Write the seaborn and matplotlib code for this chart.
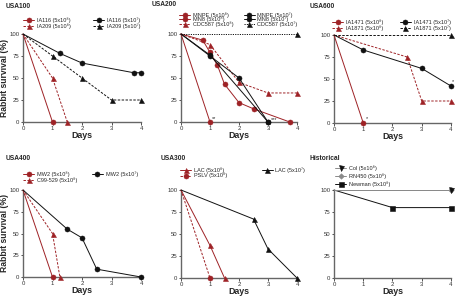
import numpy as np
import pandas as pd
import matplotlib.pyplot as plt
import seaborn as sns

sns.set_theme(style="ticks")
plt.rcParams['font.family'] = ['Liberation Sans', 'DejaVu Sans']

RED = '#9e2226'
BLK = '#111111'
GRY = '#8a8a8a'

# USA100
ia116_hi_x, ia116_hi_y = [0, 1], [100, 0]
ia209_hi_x, ia209_hi_y = [0, 1, 1.5], [100, 50, 0]
ia116_lo_x, ia116_lo_y = [0, 1.25, 2, 3.75, 4], [100, 78, 67, 56, 56]
ia209_lo_x, ia209_lo_y = [0, 1, 2, 3, 4], [100, 75, 50, 25, 25]

# USA200
mnpe_hi_x, mnpe_hi_y = [0, 1], [100, 0]
mn8_hi_x, mn8_hi_y = [0, 0.75, 1, 1.25, 1.5, 2, 2.5, 3.75], [100, 93, 79, 65, 43, 22, 15, 0]
cdc_hi_x, cdc_hi_y = [0, 1, 2, 3, 4], [100, 88, 45, 33, 33]
mnpe_lo_x, mnpe_lo_y = [0, 1, 2, 3], [100, 75, 50, 0]
mn8_lo_x, mn8_lo_y = [0, 1, 3], [100, 76, 0]
cdc_lo_x, cdc_lo_y = [0, 4], [100, 100]

# USA600
ia1471_hi_x, ia1471_hi_y = [0, 1], [100, 0]
ia1871_hi_x, ia1871_hi_y = [0, 2.5, 3, 4], [100, 75, 25, 25]
ia1471_lo_x, ia1471_lo_y = [0, 1, 3, 4], [100, 83, 62, 42]
ia1871_lo_x, ia1871_lo_y = [0, 4], [100, 100]

# USA400
mw2_hi_x, mw2_hi_y = [0, 1], [100, 0]
c99_hi_x, c99_hi_y = [0, 1, 1.25], [100, 50, 0]
mw2_lo_x, mw2_lo_y = [0, 1.5, 2, 2.5, 4], [100, 55, 45, 9, 0]

# USA300
lac_hi_x, lac_hi_y = [0, 1, 1.5], [100, 37, 0]
pslv_hi_x, pslv_hi_y = [0, 1], [100, 0]
lac_lo_x, lac_lo_y = [0, 2.5, 3, 4], [100, 67, 33, 0]

# Historical
col_x, col_y = [0, 4], [100, 100]
rn450_x, rn450_y = [0, 4], [100, 100]
newman_x, newman_y = [0, 2, 4], [100, 80, 80]

hi = '(5x10\u2078)'
lo = '(5x10\u2077)'

# title, axes box px (l, t, r, b), title pos px, legend top-left px, ncol, colspacing, labelspacing, series
panels = [
    ('USA100', (23, 34, 141, 122), (6, 6), (23, 17.5), 2, 4.0, 0.05, [
        (f'IA116 {hi}', ia116_hi_x, ia116_hi_y, RED, 'o', '-'),
        (f'IA209 {hi}', ia209_hi_x, ia209_hi_y, RED, '^', '--'),
        (f'IA116 {lo}', ia116_lo_x, ia116_lo_y, BLK, 'o', '-'),
        (f'IA209 {lo}', ia209_lo_x, ia209_lo_y, BLK, '^', '--')]),
    ('USA200', (181, 34, 297, 122), (152, 5), (179, 12), 2, 1.8, -0.15, [
        (f'MNPE {hi}', mnpe_hi_x, mnpe_hi_y, RED, 'o', '-'),
        (f'MN8 {hi}', mn8_hi_x, mn8_hi_y, RED, 'o', '-'),
        (f'CDC587 {hi}', cdc_hi_x, cdc_hi_y, RED, '^', '--'),
        (f'MNPE {lo}', mnpe_lo_x, mnpe_lo_y, BLK, 'o', '-'),
        (f'MN8 {lo}', mn8_lo_x, mn8_lo_y, BLK, 'o', '-'),
        (f'CDC587 {lo}', cdc_lo_x, cdc_lo_y, BLK, '^', ':')]),
    ('USA600', (334, 35, 451, 123), (310, 7), (332, 19), 2, 3.0, 0.05, [
        (f'IA1471 {hi}', ia1471_hi_x, ia1471_hi_y, RED, 'o', '-'),
        (f'IA1871 {hi}', ia1871_hi_x, ia1871_hi_y, RED, '^', '--'),
        (f'IA1471 {lo}', ia1471_lo_x, ia1471_lo_y, BLK, 'o', '-'),
        (f'IA1871 {lo}', ia1871_lo_x, ia1871_lo_y, BLK, '^', '--')]),
    ('USA400', (23, 190, 141, 277), (6, 158), (23, 171.5), 2, 2.6, 0.05, [
        (f'MW2 {hi}', mw2_hi_x, mw2_hi_y, RED, 'o', '-'),
        (f'C99-529 {hi}', c99_hi_x, c99_hi_y, RED, '^', '--'),
        (f'MW2 {lo}', mw2_lo_x, mw2_lo_y, BLK, 'o', '-')]),
    ('USA300', (181, 190, 297, 278), (161, 158), (180, 167.5), 2, 6.2, -0.05, [
        (f'LAC {hi}', lac_hi_x, lac_hi_y, RED, '^', '-'),
        (f'PSLV {hi}', pslv_hi_x, pslv_hi_y, RED, 'o', '--'),
        (f'LAC {lo}', lac_lo_x, lac_lo_y, BLK, '^', '-')]),
    ('Historical', (334, 190, 451, 278), (310, 159), (335, 165.5), 1, 1.0, 0.4, [
        (f'Col {hi}', col_x, col_y, BLK, 'v', '-'),
        (f'RN450 {hi}', rn450_x, rn450_y, GRY, 'D', '-'),
        (f'Newman {hi}', newman_x, newman_y, BLK, 's', '-')]),
]

W, H = 456, 298
fig = plt.figure(figsize=(W / 100, H / 100), dpi=100)

for i, (title, (l, t, r, b), (tx, ty), (lx, ly), ncol, cspace, lspace, series) in enumerate(panels):
    ax = fig.add_axes([l / W, 1 - b / H, (r - l) / W, (b - t) / H])
    for label, xs, ys, color, mk, ls in series:
        is_col = title == 'Historical' and label.startswith('Col')
        lc = GRY if is_col else color
        sns.lineplot(x=xs, y=ys, ax=ax, color=lc, marker=mk,
                     linewidth=0.7, markersize=3.6 if mk != 'D' else 2.8,
                     markerfacecolor=color, markeredgecolor=color,
                     markeredgewidth=0.4, label=label, clip_on=False,
                     markevery=list(range(1, len(xs))),
                     zorder=4 if is_col else 3)
        line = ax.lines[-1]
        if ls == '--':
            line.set_dashes((2.5, 1.5))
        elif ls == ':':
            line.set_dashes((1.2, 1.2))
    ax.set_xlim(0, 4)
    ax.set_ylim(0, 100)
    ax.set_xticks([0, 1, 2, 3, 4])
    ax.set_yticks([0, 25, 50, 75, 100])
    ax.tick_params(labelsize=4.3, length=1.8, width=0.6, pad=0.8, colors='#333333')
    for s in ['top', 'right']:
        ax.spines[s].set_visible(False)
    for s in ['left', 'bottom']:
        ax.spines[s].set_color('#666666')
        ax.spines[s].set_linewidth(1.0)
    ax.set_xlabel('Days', fontsize=6.4, fontweight='bold', labelpad=0.5)
    if i % 3 == 0:
        ax.set_ylabel('Rabbit survival (%)', fontsize=6.2, fontweight='bold', labelpad=0.5)
    else:
        ax.set_ylabel('')
    fig.text(tx / W, 1 - ty / H, title, fontsize=4.8, fontweight='bold', va='center', ha='left')
    ax.legend(loc='upper left', bbox_to_anchor=(lx / W, 1 - ly / H),
              bbox_transform=fig.transFigure, ncol=ncol, frameon=False,
              fontsize=4.0, handlelength=2.0, handletextpad=0.5,
              columnspacing=cspace, labelspacing=lspace, borderpad=0,
              borderaxespad=0)
    if title == 'USA200':
        ax.text(1.08, 1, '**', fontsize=4, ha='left', va='bottom')
        ax.text(3.1, 0, '***', fontsize=4, ha='left', va='bottom')
    if title == 'USA600':
        ax.text(1.08, 2, '*', fontsize=4, ha='left', va='bottom')
        ax.text(4.02, 44, '*', fontsize=4, ha='left', va='bottom')

fig.savefig('out.png', dpi=100)
